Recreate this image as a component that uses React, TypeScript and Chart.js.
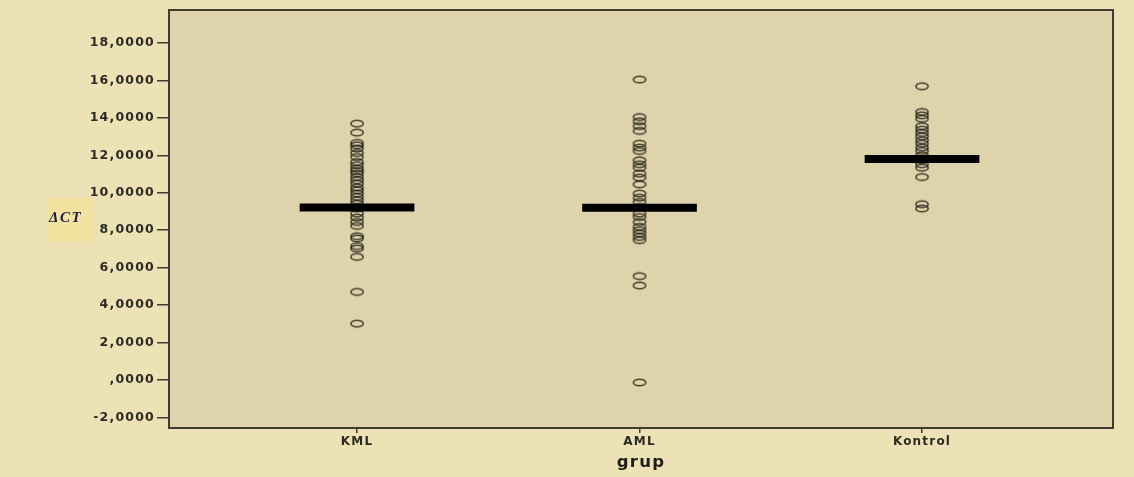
import React, { useEffect, useRef } from "react";
import { Chart, registerables } from "chart.js";

Chart.register(...registerables);

// ---------- data ----------
const categories = ["KML", "AML", "Kontrol"];
const categoryPositions = [1, 2, 3];

const kmlValues = [
  13.69, 13.21, 12.66, 12.53, 12.36, 12.12, 11.91, 11.64, 11.47, 11.29, 11.16,
  11.02, 10.84, 10.67, 10.49, 10.28, 10.13, 9.96, 9.78, 9.6, 9.42, 9.16, 8.89,
  8.68, 8.44, 8.23, 7.68, 7.56, 7.15, 7.02, 6.58, 4.71, 3.02,
];
const amlValues = [
  16.04, 14.04, 13.81, 13.56, 13.3, 12.62, 12.41, 12.23, 11.73, 11.52, 11.34,
  11.02, 10.81, 10.45, 9.96, 9.74, 9.51, 9.24, 8.89, 8.71, 8.44, 8.18, 8.0,
  7.82, 7.64, 7.47, 5.55, 5.05, -0.12,
];
const kontrolValues = [
  15.68, 14.31, 14.13, 13.95, 13.55, 13.37, 13.19, 13.01, 12.8, 12.62, 12.41,
  12.23, 12.0, 11.73, 11.52, 11.34, 10.84, 9.39, 9.16,
];
const groupMeans = [9.22, 9.2, 11.8];

const yTickValues = [-2, 0, 2, 4, 6, 8, 10, 12, 14, 16, 18];
const yMin = -2.55;
const yMax = 19.75;
const xMin = 0.3345;
const xMax = 3.676;
const meanHalfWidth = 0.203;

const yAxisLabel = "\u0394CT";
const xAxisLabel = "grup";

// ---------- styles ----------
const outerBg = "#ede2b5";
const plotBg = "#ded3aa";
const frameColor = "#3e3d32";
const textColor = "#2b2a24";

function formatSpss(v: number): string {
  let s = v.toFixed(4).replace(".", ",");
  if (s.startsWith("0,")) s = s.slice(1);
  return s;
}

function makeEllipse(): HTMLCanvasElement {
  const c = document.createElement("canvas");
  c.width = 16;
  c.height = 11;
  const g = c.getContext("2d")!;
  g.strokeStyle = "rgba(30,28,20,0.8)";
  g.lineWidth = 1.6;
  g.beginPath();
  g.ellipse(8, 5.5, 6.1, 3.3, 0, 0, Math.PI * 2);
  g.stroke();
  return c;
}

export default function App() {
  const canvasRef = useRef<HTMLCanvasElement | null>(null);

  useEffect(() => {
    const canvas = canvasRef.current;
    if (!canvas) return;
    const marker = makeEllipse();

    const groups = [kmlValues, amlValues, kontrolValues];

    const meanSets = groupMeans.map((m, i) => ({
      type: "line" as const,
      data: [
        { x: categoryPositions[i] - meanHalfWidth, y: m },
        { x: categoryPositions[i] + meanHalfWidth, y: m },
      ],
      borderColor: "#000000",
      borderWidth: 8,
      borderCapStyle: "butt" as const,
      pointRadius: 0,
      fill: false,
    }));

    const pointSets = groups.map((vals, i) => ({
      type: "scatter" as const,
      data: vals.map((v) => ({ x: categoryPositions[i], y: v })),
      pointStyle: marker,
      pointRadius: 6,
      showLine: false,
    }));

    const bgPlugin = {
      id: "bgPlugin",
      beforeDraw(chart: any) {
        const { ctx, chartArea } = chart;
        ctx.save();
        ctx.fillStyle = outerBg;
        ctx.fillRect(0, 0, chart.width, chart.height);
        ctx.fillStyle = plotBg;
        ctx.fillRect(
          chartArea.left,
          chartArea.top,
          chartArea.right - chartArea.left,
          chartArea.bottom - chartArea.top
        );
        // y label box
        ctx.fillStyle = "#f4e3a0";
        ctx.fillRect(47, 198, 46, 43);
        ctx.fillStyle = "#1d1d48";
        ctx.font = 'italic bold 15px "Liberation Serif"';
        ctx.textBaseline = "middle";
        ctx.textAlign = "left";
        (ctx as any).letterSpacing = "1.5px";
        ctx.fillText(yAxisLabel, 49, 218);
        ctx.restore();
        (ctx as any).letterSpacing = "1.2px";
      },
      afterDraw(chart: any) {
        const { ctx, chartArea } = chart;
        ctx.save();
        ctx.strokeStyle = frameColor;
        ctx.lineWidth = 2;
        ctx.strokeRect(
          chartArea.left,
          chartArea.top,
          chartArea.right - chartArea.left,
          chartArea.bottom - chartArea.top
        );
        ctx.restore();
      },
    };

    const chart = new Chart(canvas, {
      type: "scatter",
      data: { datasets: [...meanSets, ...pointSets] as any },
      plugins: [bgPlugin],
      options: {
        animation: false,
        responsive: false,
        devicePixelRatio: 1,
        layout: { padding: { top: 10, right: 21, left: 0, bottom: 0 } },
        plugins: {
          legend: { display: false },
          tooltip: { enabled: false },
        },
        scales: {
          x: {
            type: "linear",
            min: xMin,
            max: xMax,
            afterBuildTicks: (scale: any) => {
              scale.ticks = categoryPositions.map((v) => ({ value: v }));
            },
            afterFit: (scale: any) => {
              scale.height = 49;
            },
            border: { display: false },
            grid: {
              display: true,
              drawOnChartArea: false,
              drawTicks: true,
              tickLength: 5,
              color: frameColor,
              lineWidth: 1.5,
            },
            ticks: {
              padding: 2,
              maxRotation: 0,
              autoSkip: false,
              color: textColor,
              font: { family: '"DejaVu Sans"', size: 12, weight: "bold" },
              callback: (v: any) => categories[Number(v) - 1] ?? "",
            },
            title: {
              display: true,
              text: xAxisLabel,
              color: "#1e1d18",
              font: { family: '"DejaVu Sans"', size: 16.5, weight: "bold" },
              padding: { top: 0, bottom: 4 },
            },
          },
          y: {
            type: "linear",
            min: yMin,
            max: yMax,
            afterBuildTicks: (scale: any) => {
              scale.ticks = yTickValues.map((v) => ({ value: v }));
            },
            afterFit: (scale: any) => {
              scale.width = 169;
            },
            border: { display: false },
            grid: {
              display: true,
              drawOnChartArea: false,
              drawTicks: true,
              tickLength: 12,
              color: frameColor,
              lineWidth: 1.5,
            },
            ticks: {
              padding: 2,
              color: textColor,
              font: { family: '"DejaVu Sans"', size: 12.5, weight: "bold" },
              callback: (v: any) => formatSpss(Number(v)),
            },
          },
        },
      },
    });

    return () => chart.destroy();
  }, []);

  return (
    <div
      style={{
        position: "absolute",
        left: 0,
        top: 0,
        width: 1134,
        height: 477,
        background: outerBg,
      }}
    >
      <canvas
        ref={canvasRef}
        width={1134}
        height={477}
        style={{ display: "block", width: 1134, height: 477 }}
      />
    </div>
  );
}
